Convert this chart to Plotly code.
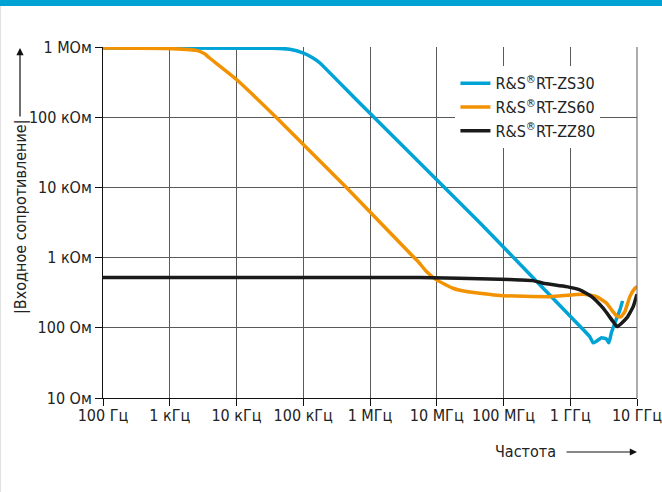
import plotly.graph_objects as go

# ---- data ----
x_ticks = [1e2, 1e3, 1e4, 1e5, 1e6, 1e7, 1e8, 1e9, 1e10]
x_labels = ["100 Гц", "1 кГц", "10 кГц", "100 кГц", "1 МГц", "10 МГц", "100 МГц", "1 ГГц", "10 ГГц"]
y_ticks = [1e1, 1e2, 1e3, 1e4, 1e5, 1e6]
y_labels = ["10 Ом", "100 Ом", "1 кОм", "10 кОм", "100 кОм", "1 MОм"]

zs30_f = [1e2, 3.48e4, 6.25e4, 1.01e5, 1.38e5, 1.76e5, 6.25e5, 4.42e7, 1.48e9, 1.97e9,
          2.20e9, 2.5e9, 2.94e9, 3.50e9, 3.79e9, 4.16e9, 4.67e9, 5.55e9, 6.08e9]
zs30_z = [9.68e5, 9.61e5, 9.31e5, 8.21e5, 7.03e5, 5.97e5, 1.77e5, 3.13e3, 99.5, 74,
          61, 65, 72, 69, 61, 87, 117, 180, 242]

zs60_f = [1e2, 8.87e2, 2.5e3, 3.33e3, 3.95e3, 1.01e4, 3.95e4, 4.43e5, 4.42e6, 5.25e6,
          7.02e6, 9.91e6, 1.75e7, 2.79e7, 4.42e7, 8.8e7, 4.94e8, 1.56e9, 2.48e9, 3.50e9,
          4.16e9, 4.94e9, 5.73e9, 6.58e9, 7.82e9, 9.31e9, 1e10]
zs60_z = [9.68e5, 9.55e5, 8.95e5, 8.02e5, 6.97e5, 3.42e5, 9.9e4, 9.95e3, 1035, 879,
          633, 481, 366, 328, 311, 288, 278, 300, 278, 224,
          180, 148, 143, 170, 278, 366, 387]

zz80_f = [1e2, 5.56e6, 8.8e7, 1.75e8, 2.78e8, 3.93e8, 8.81e8, 1.39e9, 2.09e9, 3.11e9,
          4.40e9, 5.05e9, 6.98e9, 8.77e9, 1e10]
zz80_z = [519, 519, 492, 481, 470, 431, 386, 347, 278, 190,
          122, 104, 137, 200, 300]

series_names = ["R&S<sup>®</sup>RT-ZS30", "R&S<sup>®</sup>RT-ZS60", "R&S<sup>®</sup>RT-ZZ80"]
series_colors = ["#00a3d6", "#f39200", "#1a1a1a"]

FONT = "Liberation Sans Narrow, DejaVu Sans Condensed, Roboto, sans-serif"

fig = go.Figure()
for name, f, z, c in zip(series_names, [zs30_f, zs60_f, zz80_f], [zs30_z, zs60_z, zz80_z], series_colors):
    fig.add_trace(go.Scatter(x=f, y=z, mode="lines", name=name,
                             line=dict(color=c, width=3.5, shape="spline", smoothing=0.4)))

axis_common = dict(type="log", showgrid=True, gridcolor="#5a5a5a", gridwidth=1,
                   showline=True, linecolor="#111", linewidth=1, ticks="outside",
                   ticklen=7, tickcolor="#111", tickfont=dict(family=FONT, size=16, color="#222"),
                   zeroline=False, fixedrange=True, ticklabeloverflow="allow",
                   automargin=False)

fig.update_xaxes(range=[2, 10], tickvals=x_ticks, ticktext=x_labels,
                 ticklabelstandoff=-4, **axis_common)
fig.update_yaxes(range=[1, 6], tickvals=y_ticks, ticktext=y_labels, **axis_common)

L, T, W, H = 103, 47, 534, 351

fig.update_layout(
    width=662, height=492,
    margin=dict(l=L, r=662 - L - W, t=T, b=492 - T - H, autoexpand=False),
    paper_bgcolor="white", plot_bgcolor="white",
    font=dict(family=FONT, size=15, color="#222"),
    legend=dict(x=0.66, y=0.945, xanchor="left", yanchor="top", bgcolor="white",
                font=dict(family=FONT, size=16, color="#222"), itemwidth=30,
                tracegroupgap=0),
    shapes=[
        dict(type="rect", xref="paper", yref="paper", x0=-0.3, x1=1.1,
             y0=1 + (T - 6) / H, y1=1 + T / H + 0.01, fillcolor="#00a3d4",
             line=dict(width=0), layer="above"),
        dict(type="line", xref="paper", yref="paper", x0=1, x1=1, y0=0, y1=1,
             line=dict(color="#5a5a5a", width=1)),
        dict(type="line", xref="paper", yref="paper", x0=-L / W + 0.001, x1=-L / W + 0.001,
             y0=-(492 - T - H) / H, y1=1 + (T - 6) / H,
             line=dict(color="#e2e2e2", width=1)),
    ],
    annotations=[
        dict(xref="paper", yref="paper", x=(20 - L) / W, y=(T + H - 48) / H,
             ax=0, ay=70, showarrow=True, arrowhead=2, arrowsize=1.2, arrowwidth=1.2,
             arrowcolor="#111", text=""),
        dict(xref="paper", yref="paper", x=(20 - L) / W, y=(T + H - 217) / H,
             text="|Входное сопротивление|", textangle=-90, showarrow=False,
             font=dict(family=FONT, size=16, color="#222"), xanchor="center", yanchor="middle"),
        dict(xref="paper", yref="paper", x=1.0, y=(T + H - 452) / H,
             ax=-72, ay=0, showarrow=True, arrowhead=2, arrowsize=1.2, arrowwidth=1.2,
             arrowcolor="#111", text=""),
        dict(xref="paper", yref="paper", x=(558 - L) / W, y=(T + H - 452) / H,
             text="Частота", showarrow=False, xanchor="right", yanchor="middle",
             font=dict(family=FONT, size=16, color="#222")),
    ],
)

fig.write_html("out.html", config={"displayModeBar": False},
               post_script="document.body.style.margin='0px';")
